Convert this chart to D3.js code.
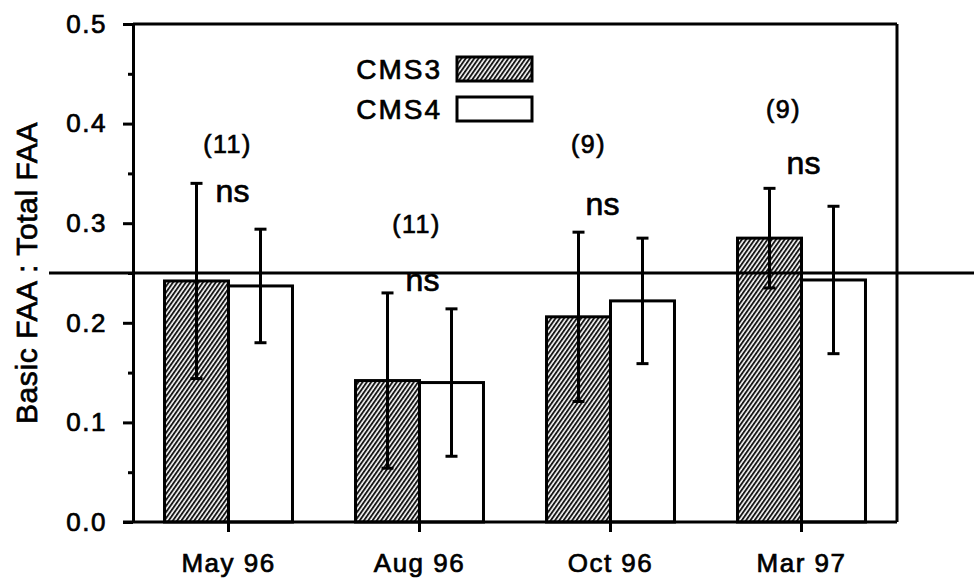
<!DOCTYPE html>
<html>
<head>
<meta charset="utf-8">
<script src="https://d3js.org/d3.v7.min.js"></script>
<style>
body { margin: 0; background: #fff; }
svg text { font-family: "Liberation Sans", Arial, sans-serif; fill: #000; stroke: #000; stroke-width: 0.7px; }
.axis path, .axis line { stroke: #000; stroke-width: 3; }
.axis text { font-size: 26px; letter-spacing: 1.5px; }
</style>
</head>
<body>
<svg width="974" height="583"></svg>
<script>

// data
var months = ["May 96", "Aug 96", "Oct 96", "Mar 97"];
var series = ["CMS3", "CMS4"];
var cms3 = [0.242, 0.142, 0.206, 0.285];
var cms4 = [0.237, 0.140, 0.222, 0.243];
var cms3Err = [0.098, 0.088, 0.085, 0.050];
var cms4Err = [0.057, 0.074, 0.063, 0.074];
var nLabels = ["(11)", "(11)", "(9)", "(9)"];
var nLabelY = [0.379, 0.299, 0.379, 0.414];
var sigLabels = ["ns", "ns", "ns", "ns"];
var sigLabelY = [0.332, 0.242, 0.319, 0.360];
var refLine = 0.25;
var yTicks = [0, 0.1, 0.2, 0.3, 0.4, 0.5];
var yMinorTicks = [0.05, 0.15, 0.25, 0.35, 0.45];

var svg = d3.select("svg"),
    margin = {top: 24, right: 77, bottom: 61, left: 133},
    width = +svg.attr("width"),
    height = +svg.attr("height");

var x0 = d3.scaleBand()
    .domain(months)
    .range([margin.left, width - margin.right])
    .paddingInner(0.33)
    .paddingOuter(0.165);

var x1 = d3.scaleBand()
    .domain(series)
    .range([0, x0.bandwidth()]);

var y = d3.scaleLinear()
    .domain([0, 0.5])
    .range([height - margin.bottom, margin.top]);

// hatch for CMS3
var defs = svg.append("defs");
defs.append("pattern")
    .attr("id", "hatch")
    .attr("patternUnits", "userSpaceOnUse")
    .attr("width", 3.5)
    .attr("height", 10)
    .attr("patternTransform", "rotate(35)")
  .call(function(p) {
    p.append("rect").attr("width", 3.5).attr("height", 10).attr("fill", "#fff");
    p.append("line").attr("x1", 1).attr("x2", 1).attr("y1", 0).attr("y2", 10)
      .attr("stroke", "#111").attr("stroke-width", 1.9);
  });

var rows = months.map(function(m, i) {
  return [
    {month: m, key: "CMS3", value: cms3[i], err: cms3Err[i]},
    {month: m, key: "CMS4", value: cms4[i], err: cms4Err[i]}
  ];
});

var fills = {CMS3: "url(#hatch)", CMS4: "#fff"};

var groups = svg.append("g")
  .selectAll("g")
  .data(rows)
  .enter().append("g")
  .attr("transform", function(d) { return "translate(" + x0(d[0].month) + ",0)"; });

groups.selectAll("rect")
  .data(function(d) { return d; })
  .enter().append("rect")
  .attr("x", function(d) { return x1(d.key); })
  .attr("y", function(d) { return y(d.value); })
  .attr("width", x1.bandwidth())
  .attr("height", function(d) { return y(0) - y(d.value); })
  .attr("fill", function(d) { return fills[d.key]; })
  .attr("stroke", "#000")
  .attr("stroke-width", 3);

// error bars
var capW = 6;
var eb = groups.selectAll(".err")
  .data(function(d) { return d; })
  .enter().append("g")
  .attr("class", "err")
  .attr("stroke", "#000")
  .attr("stroke-width", 3);

eb.append("line")
  .attr("x1", function(d) { return x1(d.key) + x1.bandwidth() / 2; })
  .attr("x2", function(d) { return x1(d.key) + x1.bandwidth() / 2; })
  .attr("y1", function(d) { return y(d.value + d.err); })
  .attr("y2", function(d) { return y(d.value - d.err); });
eb.append("line")
  .attr("x1", function(d) { return x1(d.key) + x1.bandwidth() / 2 - capW; })
  .attr("x2", function(d) { return x1(d.key) + x1.bandwidth() / 2 + capW; })
  .attr("y1", function(d) { return y(d.value + d.err); })
  .attr("y2", function(d) { return y(d.value + d.err); });
eb.append("line")
  .attr("x1", function(d) { return x1(d.key) + x1.bandwidth() / 2 - capW; })
  .attr("x2", function(d) { return x1(d.key) + x1.bandwidth() / 2 + capW; })
  .attr("y1", function(d) { return y(d.value - d.err); })
  .attr("y2", function(d) { return y(d.value - d.err); });

// n and significance labels (nudged like the original)
var nNudge = [-1, -3, -22, -18];
var sigNudge = [4, 3, -8, 2];
var mid = x0.bandwidth() / 2;

svg.append("g").selectAll("text")
  .data(months)
  .enter().append("text")
  .attr("x", function(d, i) { return x0(d) + mid + nNudge[i]; })
  .attr("y", function(d, i) { return y(nLabelY[i]); })
  .attr("dy", "0.35em")
  .attr("text-anchor", "middle")
  .style("font-size", "25px")
  .style("letter-spacing", "1.5px")
  .text(function(d, i) { return nLabels[i]; });

svg.append("g").selectAll("text")
  .data(months)
  .enter().append("text")
  .attr("x", function(d, i) { return x0(d) + mid + sigNudge[i]; })
  .attr("y", function(d, i) { return y(sigLabelY[i]); })
  .attr("dy", "0.32em")
  .attr("text-anchor", "middle")
  .style("font-size", "32px")
  .text(function(d, i) { return sigLabels[i]; });

// frame top and right
svg.append("line")
  .attr("x1", margin.left).attr("x2", width - margin.right)
  .attr("y1", y(0.5)).attr("y2", y(0.5))
  .attr("stroke", "#000").attr("stroke-width", 3);
svg.append("line")
  .attr("x1", width - margin.right).attr("x2", width - margin.right)
  .attr("y1", y(0.5)).attr("y2", y(0))
  .attr("stroke", "#000").attr("stroke-width", 3);

// axes
svg.append("g")
  .attr("class", "axis")
  .attr("transform", "translate(" + margin.left + ",0)")
  .call(d3.axisLeft(y).tickValues(yMinorTicks).tickFormat("").tickSize(5).tickSizeOuter(0));

svg.append("g")
  .attr("class", "axis")
  .attr("transform", "translate(" + margin.left + ",0)")
  .call(d3.axisLeft(y).tickValues(yTicks).tickFormat(d3.format(".1f"))
    .tickSize(10).tickSizeOuter(0).tickPadding(16));

var xAxis = svg.append("g")
  .attr("class", "axis")
  .attr("transform", "translate(0," + y(0) + ")")
  .call(d3.axisBottom(x0).tickSize(10).tickSizeOuter(0).tickPadding(22));
xAxis.select(".domain").attr("d", "M" + (margin.left - 10) + ",0H" + (width - margin.right));

// reference line at 0.25
svg.append("line")
  .attr("x1", 49).attr("x2", width)
  .attr("y1", y(refLine)).attr("y2", y(refLine))
  .attr("stroke", "#000").attr("stroke-width", 3);

// y title
svg.append("text")
  .attr("transform", "translate(37," + y(0.25) + ") rotate(-90)")
  .attr("text-anchor", "middle")
  .style("font-size", "30px")
  .style("letter-spacing", "0.6px")
  .text("Basic FAA : Total FAA");

// legend
var legend = svg.append("g").selectAll("g")
  .data(series)
  .enter().append("g")
  .attr("transform", function(d, i) { return "translate(0," + (69 + i * 40) + ")"; });

legend.append("rect")
  .attr("x", 457).attr("y", -12)
  .attr("width", 75).attr("height", 24)
  .attr("fill", function(d) { return fills[d]; })
  .attr("stroke", "#000").attr("stroke-width", 3);

legend.append("text")
  .attr("x", 442).attr("dy", "0.36em")
  .attr("text-anchor", "end")
  .style("font-size", "28px")
  .style("letter-spacing", "2px")
  .text(function(d) { return d; });

</script>
</body>
</html>
